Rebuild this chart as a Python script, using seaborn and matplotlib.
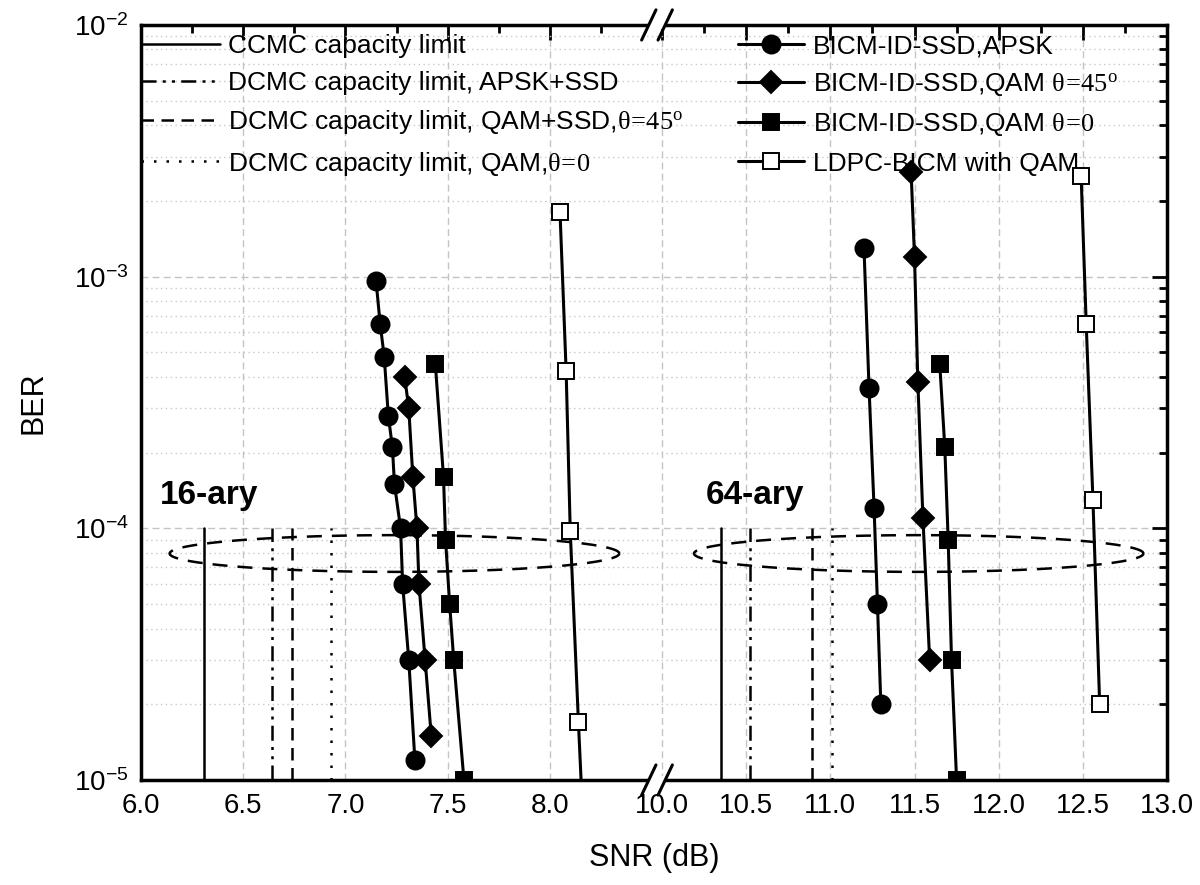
import numpy as np
import matplotlib
matplotlib.use("Agg")
import matplotlib.pyplot as plt
from matplotlib.lines import Line2D
import seaborn as sns

# ---- data ----
# capacity limits (dB), first value 16-ary, second 64-ary
ccmc_limit = [6.31, 10.35]
dcmc_apsk_ssd = [6.64, 10.52]
dcmc_qam_ssd45 = [6.74, 10.89]
dcmc_qam0 = [6.93, 11.01]
limit_ber_top = 1e-4
limit_ber_bottom = 1e-5

# 16-ary curves
apsk16_snr = [7.15, 7.17, 7.19, 7.21, 7.23, 7.24, 7.27, 7.28, 7.31, 7.34]
apsk16_ber = [9.6e-4, 6.5e-4, 4.8e-4, 2.8e-4, 2.1e-4, 1.5e-4, 1.0e-4, 6e-5, 3e-5, 1.2e-5]
qam45_16_snr = [7.29, 7.31, 7.33, 7.35, 7.36, 7.39, 7.42]
qam45_16_ber = [4e-4, 3e-4, 1.6e-4, 1e-4, 6e-5, 3e-5, 1.5e-5]
qam0_16_snr = [7.44, 7.48, 7.49, 7.51, 7.53, 7.58]
qam0_16_ber = [4.5e-4, 1.6e-4, 9e-5, 5e-5, 3e-5, 1e-5]
ldpc16_snr = [8.05, 8.08, 8.10, 8.14, 8.17]
ldpc16_ber = [1.8e-3, 4.2e-4, 9.8e-5, 1.7e-5, 5e-6]

# 64-ary curves
apsk64_snr = [11.20, 11.23, 11.26, 11.28, 11.30]
apsk64_ber = [1.3e-3, 3.6e-4, 1.2e-4, 5e-5, 2e-5]
qam45_64_snr = [11.48, 11.50, 11.52, 11.55, 11.59]
qam45_64_ber = [2.6e-3, 1.2e-3, 3.8e-4, 1.1e-4, 3e-5]
qam0_64_snr = [11.65, 11.68, 11.70, 11.72, 11.75]
qam0_64_ber = [4.5e-4, 2.1e-4, 9e-5, 3e-5, 1e-5]
ldpc64_snr = [12.49, 12.52, 12.56, 12.60]
ldpc64_ber = [2.5e-3, 6.5e-4, 1.3e-4, 2e-5]

# dashed rings round the target BER (centre snr, half width in dB)
ring_centres = [7.24, 11.525]
ring_halfwidths = [1.10, 1.335]
ring_ber_centre = 10 ** -4.1
ring_half_decades = 0.073

group_labels = ["16-ary", "64-ary"]
group_label_snr = [6.09, 10.26]
group_label_ber = 1.35e-4

xticks = [6.0, 6.5, 7.0, 7.5, 8.0, 10.0, 10.5, 11.0, 11.5, 12.0, 12.5, 13.0]
xminor = [6.25, 6.75, 7.25, 7.75, 8.25, 10.25, 10.75, 11.25, 11.75, 12.25, 12.75]

# ---- broken x scale: 6-8.5 and 10-13 on (almost) equal widths ----
W_L, GAP, W_R = 511.0, 10.0, 505.0


def fwd(x):
    x = np.asarray(x, dtype=float)
    return np.where(x <= 8.5, (x - 6.0) * W_L / 2.5,
                    np.where(x <= 10.0, W_L + (x - 8.5) * GAP / 1.5,
                             W_L + GAP + (x - 10.0) * W_R / 3.0))


def inv(u):
    u = np.asarray(u, dtype=float)
    return np.where(u <= W_L, 6.0 + u * 2.5 / W_L,
                    np.where(u <= W_L + GAP, 8.5 + (u - W_L) * 1.5 / GAP,
                             10.0 + (u - W_L - GAP) * 3.0 / W_R))


sns.set_style("white")
plt.rcParams["font.family"] = ["Liberation Sans", "DejaVu Sans"]
plt.rcParams["mathtext.fontset"] = "custom"
plt.rcParams["mathtext.rm"] = "Liberation Serif"
plt.rcParams["mathtext.it"] = "Liberation Serif:italic"
plt.rcParams["axes.unicode_minus"] = False
for key in ["text.color", "axes.labelcolor", "xtick.color", "ytick.color"]:
    plt.rcParams[key] = "black"

fig = plt.figure(figsize=(12, 8.85), dpi=100)
ax = fig.add_axes([0.1175, 0.1186, 0.855, 0.8532])
ax.set_yscale("log")
ax.set_xscale("function", functions=(fwd, inv))

# grid
ax.set_xticks(xticks)
ax.set_xticks(xminor, minor=True)
ax.set_xticklabels([f"{t:.1f}" for t in xticks])
ax.grid(True, which="major", axis="both", color="#c4c4c4", linestyle=(0, (5, 3)), linewidth=1.0)
ax.grid(True, which="minor", axis="y", color="#c8c8c8", linestyle=(0, (1, 2.5)), linewidth=1.0)
ax.set_axisbelow(True)

lw = 2.2
# capacity limits
lim_styles = ["-", (0, (6, 2.5, 1.2, 2.5, 1.2, 2.5)), (0, (5, 3)), (0, (1, 4))]
lim_data = [ccmc_limit, dcmc_apsk_ssd, dcmc_qam_ssd45, dcmc_qam0]
for vals, ls in zip(lim_data, lim_styles):
    for v in vals:
        sns.lineplot(x=[v, v], y=[limit_ber_bottom, limit_ber_top], ax=ax, color="black",
                     linestyle=ls, linewidth=1.8, estimator=None, sort=False, legend=False)

# dashed rings marking the target BER
t = np.linspace(0, 2 * np.pi, 400)
for cx, hw in zip(ring_centres, ring_halfwidths):
    ex = cx + hw * np.cos(t)
    ey = 10 ** (np.log10(ring_ber_centre) + ring_half_decades * np.sin(t))
    ax.plot(ex, ey, color="black", linestyle=(0, (6, 4)), linewidth=1.8)

# BER curves
curve_style = dict(color="black", linewidth=lw, markeredgecolor="black",
                   markeredgewidth=1.4, estimator=None, sort=False, legend=False, zorder=6)
series = [
    (apsk16_snr, apsk16_ber, "o", 13, "black"),
    (apsk64_snr, apsk64_ber, "o", 13, "black"),
    (qam45_16_snr, qam45_16_ber, "D", 11, "black"),
    (qam45_64_snr, qam45_64_ber, "D", 11, "black"),
    (qam0_16_snr, qam0_16_ber, "s", 12, "black"),
    (qam0_64_snr, qam0_64_ber, "s", 12, "black"),
    (ldpc16_snr, ldpc16_ber, "s", 12, "white"),
    (ldpc64_snr, ldpc64_ber, "s", 12, "white"),
]
for xs, ys, mk, ms, fc in series:
    sns.lineplot(x=xs, y=ys, ax=ax, marker=mk, markersize=ms, markerfacecolor=fc, **curve_style)

ax.set_xlim(6.0, 13.0)
ax.set_ylim(1e-5, 1e-2)

for lbl, sx in zip(group_labels, group_label_snr):
    ax.text(sx, group_label_ber, lbl, fontsize=24, fontweight="bold", ha="left", va="center")

# ticks & spines
ax.tick_params(axis="both", which="major", direction="in", length=11, width=2,
               top=True, right=True, labelsize=20, pad=9)
ax.tick_params(axis="both", which="minor", direction="in", length=6, width=2,
               top=True, right=True)
for sp in ax.spines.values():
    sp.set_linewidth(2.5)
    sp.set_color("black")

ax.set_xlabel("SNR (dB)", fontsize=22)
ax.set_ylabel("BER", fontsize=22)
ax.xaxis.set_label_coords(0.5, -0.083)
ax.yaxis.set_label_coords(-0.09, 0.5)

# break marks on top and bottom spines
bx = (W_L + GAP / 2) / (W_L + GAP + W_R)
for yb in (0.0, 1.0):
    ax.add_patch(plt.Rectangle((bx - 0.008, yb - 0.006), 0.016, 0.012, transform=ax.transAxes,
                               facecolor="white", edgecolor="none", clip_on=False, zorder=7))
    for dx in (-0.008, 0.008):
        ax.plot([bx + dx - 0.007, bx + dx + 0.007], [yb - 0.02, yb + 0.02], transform=ax.transAxes,
                color="black", linewidth=2.2, clip_on=False, zorder=8)

# legends
th45 = r"$\mathrm{\theta\!=\!45^{o}}$"
th0 = r"$\mathrm{\theta\!=\!0}$"
lim_labels = ["CCMC capacity limit",
              "DCMC capacity limit, APSK+SSD",
              "DCMC capacity limit, QAM+SSD," + th45,
              "DCMC capacity limit, QAM," + th0]
lim_handles = [Line2D([], [], color="black", linestyle=ls, linewidth=1.8) for ls in lim_styles]
leg1 = ax.legend(lim_handles, lim_labels, loc="upper left", bbox_to_anchor=(0.0, 0.988),
                 frameon=False, fontsize=19, handlelength=3.0, handletextpad=0.3,
                 labelspacing=0.5, borderpad=0.0, borderaxespad=0.0)
leg1.set_zorder(3)
ax.add_artist(leg1)

cur_labels = ["BICM-ID-SSD,APSK",
              "BICM-ID-SSD,QAM " + th45,
              "BICM-ID-SSD,QAM " + th0,
              "LDPC-BICM with QAM"]
cur_handles = [Line2D([], [], color="black", linewidth=lw, marker=mk, markersize=ms,
                      markerfacecolor=fc, markeredgecolor="black", markeredgewidth=1.4)
               for mk, ms, fc in [("o", 13, "black"), ("D", 11, "black"), ("s", 12, "black"), ("s", 12, "white")]]
leg2 = ax.legend(cur_handles, cur_labels, loc="upper left", bbox_to_anchor=(0.582, 0.988),
                 frameon=False, fontsize=19, handlelength=2.5, handletextpad=0.35,
                 labelspacing=0.5, borderpad=0.0, borderaxespad=0.0)
leg2.set_zorder(3)

fig.savefig("out.png", dpi=100)
